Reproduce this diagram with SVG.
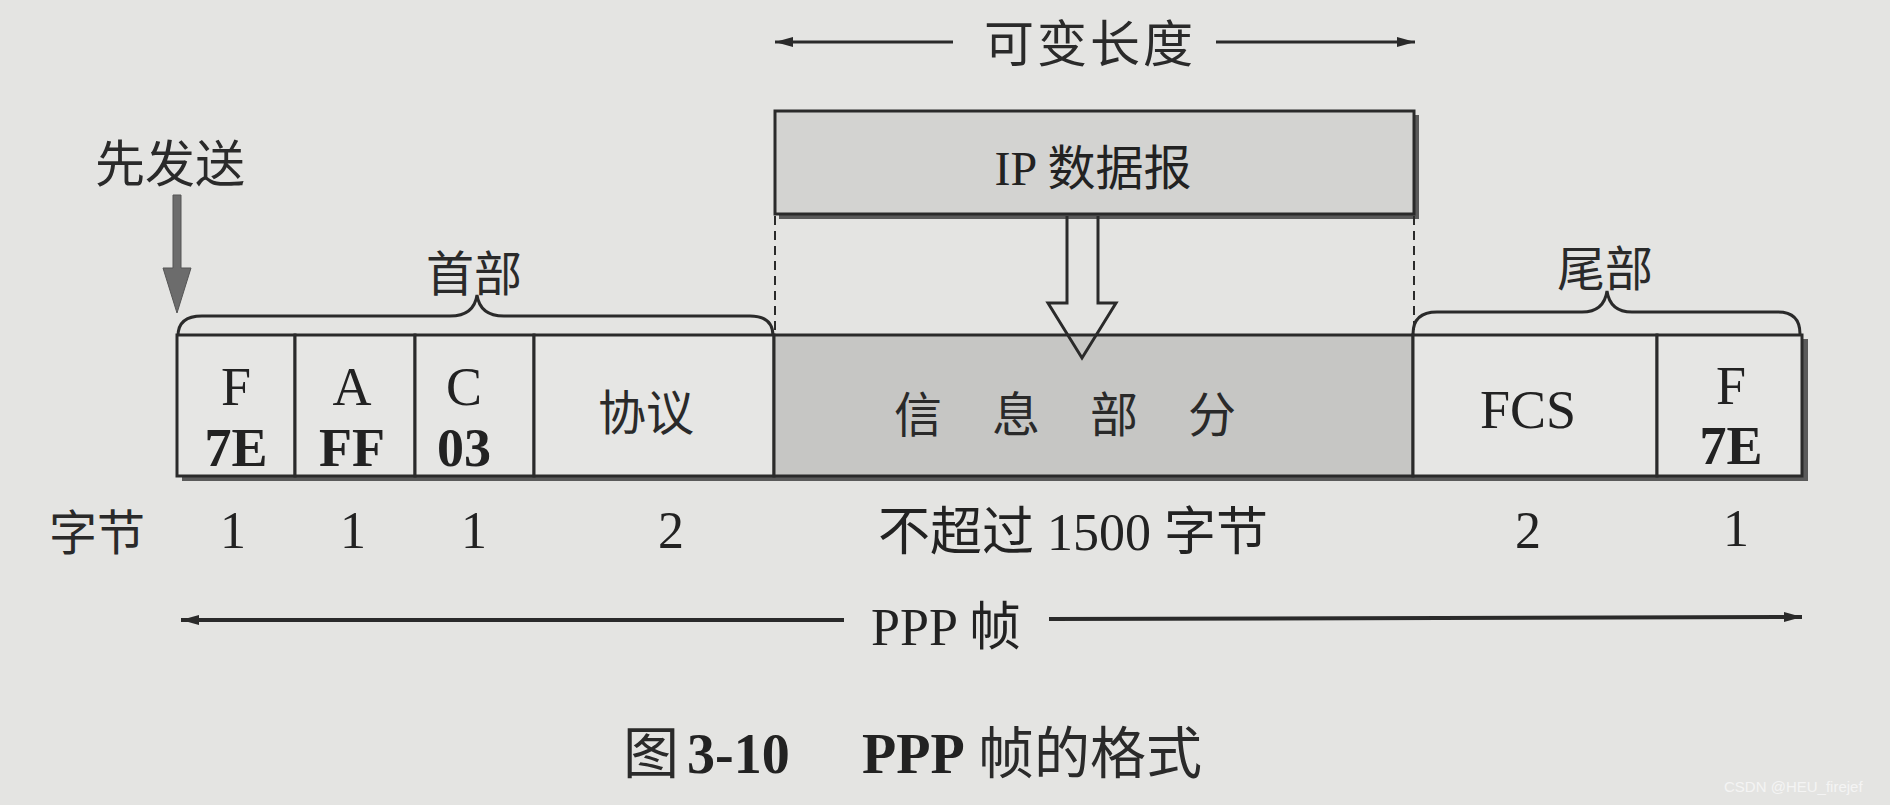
<svg xmlns="http://www.w3.org/2000/svg" width="1890" height="805" viewBox="0 0 1890 805">
  <style>
    .bg { fill: #e4e4e2; }
    .cell { fill: #e6e6e4; stroke: #2a2a2a; stroke-width: 3; }
    .info { fill: #c6c6c4; stroke: #2a2a2a; stroke-width: 3; }
    .ip { fill: #d3d3d1; stroke: #2a2a2a; stroke-width: 3; }
    .shadow { fill: #5a5a5a; }
    .ser { font-family: "Liberation Serif", "Noto Sans CJK SC", serif; fill: #222; }
    .cjk { font-family: "Noto Sans CJK SC", sans-serif; fill: #2a2a2a; }
    .c { text-anchor: middle; }
    .b { font-weight: bold; }
    .line { stroke: #2a2a2a; stroke-width: 3; fill: none; }
    .thick { stroke: #2a2a2a; stroke-width: 4; fill: none; }
    .dash { stroke: #2a2a2a; stroke-width: 2; stroke-dasharray: 9 6; fill: none; }
    .brace { stroke: #2a2a2a; stroke-width: 3; fill: none; }
  </style>
  <defs>
    <marker id="ah" markerUnits="userSpaceOnUse" markerWidth="20" markerHeight="12" refX="18" refY="6" orient="auto-start-reverse">
      <path d="M0,1 L18,6 L0,11 Z" fill="#2a2a2a"/>
    </marker>
  </defs>

  <rect class="bg" x="0" y="0" width="1890" height="805"/>

  <!-- IP datagram -->
  <g id="ip-datagram">
    <rect class="shadow" x="779" y="115" width="640" height="104"/>
    <rect class="ip" x="775" y="111" width="639" height="103"/>
    <text class="ser c" x="1093" y="185" font-size="48">IP 数据报</text>
  </g>

  <!-- frame shadow -->
  <rect class="shadow" x="182" y="339" width="1626" height="142"/>

  <g id="cell-F1">
    <rect class="cell" x="177" y="335" width="118" height="141"/>
    <text class="ser c" x="236" y="405" font-size="54">F</text>
    <text class="ser c b" x="236" y="466" font-size="54">7E</text>
  </g>
  <g id="cell-A">
    <rect class="cell" x="295" y="335" width="120" height="141"/>
    <text class="ser c" x="352" y="405" font-size="54">A</text>
    <text class="ser c b" x="352" y="466" font-size="54">FF</text>
  </g>
  <g id="cell-C">
    <rect class="cell" x="415" y="335" width="119" height="141"/>
    <text class="ser c" x="464" y="405" font-size="54">C</text>
    <text class="ser c b" x="464" y="466" font-size="54">03</text>
  </g>
  <g id="cell-protocol">
    <rect class="cell" x="534" y="335" width="240" height="141"/>
    <text class="cjk c" x="646" y="430" font-size="48">协议</text>
  </g>
  <g id="cell-info">
    <rect class="info" x="774" y="335" width="639" height="141"/>
    <text class="cjk c" x="1090" y="432" font-size="48" letter-spacing="50">信息部分</text>
  </g>
  <g id="cell-FCS">
    <rect class="cell" x="1413" y="335" width="244" height="141"/>
    <text class="ser c" x="1528" y="428" font-size="54">FCS</text>
  </g>
  <g id="cell-F2">
    <rect class="cell" x="1657" y="335" width="145" height="141"/>
    <text class="ser c" x="1731" y="404" font-size="54">F</text>
    <text class="ser c b" x="1731" y="464" font-size="54">7E</text>
  </g>

  <!-- connectors -->
  <g id="connectors">
    <line class="line" x1="953" y1="42" x2="775" y2="42" marker-end="url(#ah)"/>
    <line class="line" x1="1216" y1="42" x2="1415" y2="42" marker-end="url(#ah)"/>
    <line class="dash" x1="775" y1="216" x2="775" y2="334"/>
    <line class="dash" x1="1414" y1="216" x2="1414" y2="334"/>
    <path class="line" d="M1067,216 L1067,303 L1048,303 L1082,358 L1116,303 L1098,303 L1098,216" stroke-linejoin="miter"/>
    <path d="M173,195 L181,195 L181,268 L191,268 L177,313 L163,268 L173,268 Z" fill="#6c6c6c" stroke="#555" stroke-width="1"/>
    <line class="thick" x1="844" y1="620" x2="181" y2="620" marker-end="url(#ah)"/>
    <line class="thick" x1="1049" y1="619" x2="1802" y2="617" marker-end="url(#ah)"/>
  </g>

  <g id="braces">
    <path class="brace" d="M178,336 Q178,316 202,316 L450,316 Q474,316 477,295 Q480,316 504,316 L750,316 Q773,316 773,336"/>
    <path class="brace" d="M1413,334 Q1413,312 1437,312 L1582,312 Q1604,312 1607,291 Q1610,312 1632,312 L1778,312 Q1800,312 1800,334"/>
  </g>

  <!-- labels -->
  <text class="cjk c" x="1090" y="62" font-size="50" letter-spacing="3">可变长度</text>
  <text class="cjk c" x="170" y="182" font-size="50">先发送</text>
  <text class="cjk c" x="474" y="291" font-size="48">首部</text>
  <text class="cjk c" x="1605" y="286" font-size="48">尾部</text>

  <text class="cjk c" x="97" y="550" font-size="48">字节</text>
  <text class="ser c" x="233" y="548" font-size="52">1</text>
  <text class="ser c" x="353" y="548" font-size="52">1</text>
  <text class="ser c" x="474" y="548" font-size="52">1</text>
  <text class="ser c" x="671" y="548" font-size="52">2</text>
  <text class="ser c" x="1073" y="550" font-size="52">不超过 1500 字节</text>
  <text class="ser c" x="1528" y="548" font-size="52">2</text>
  <text class="ser c" x="1736" y="546" font-size="52">1</text>

  <text class="ser c" x="946" y="645" font-size="52">PPP 帧</text>

  <text y="773" font-size="56">
    <tspan class="cjk" x="623">图</tspan>
    <tspan class="ser b" x="687">3-10</tspan>
    <tspan class="ser b" x="862">PPP</tspan>
    <tspan class="cjk" x="978">帧的格式</tspan>
  </text>

  <text x="1724" y="792" font-family="Liberation Sans, sans-serif" font-size="15" fill="#f4f4f4">CSDN @HEU_firejef</text>
</svg>
